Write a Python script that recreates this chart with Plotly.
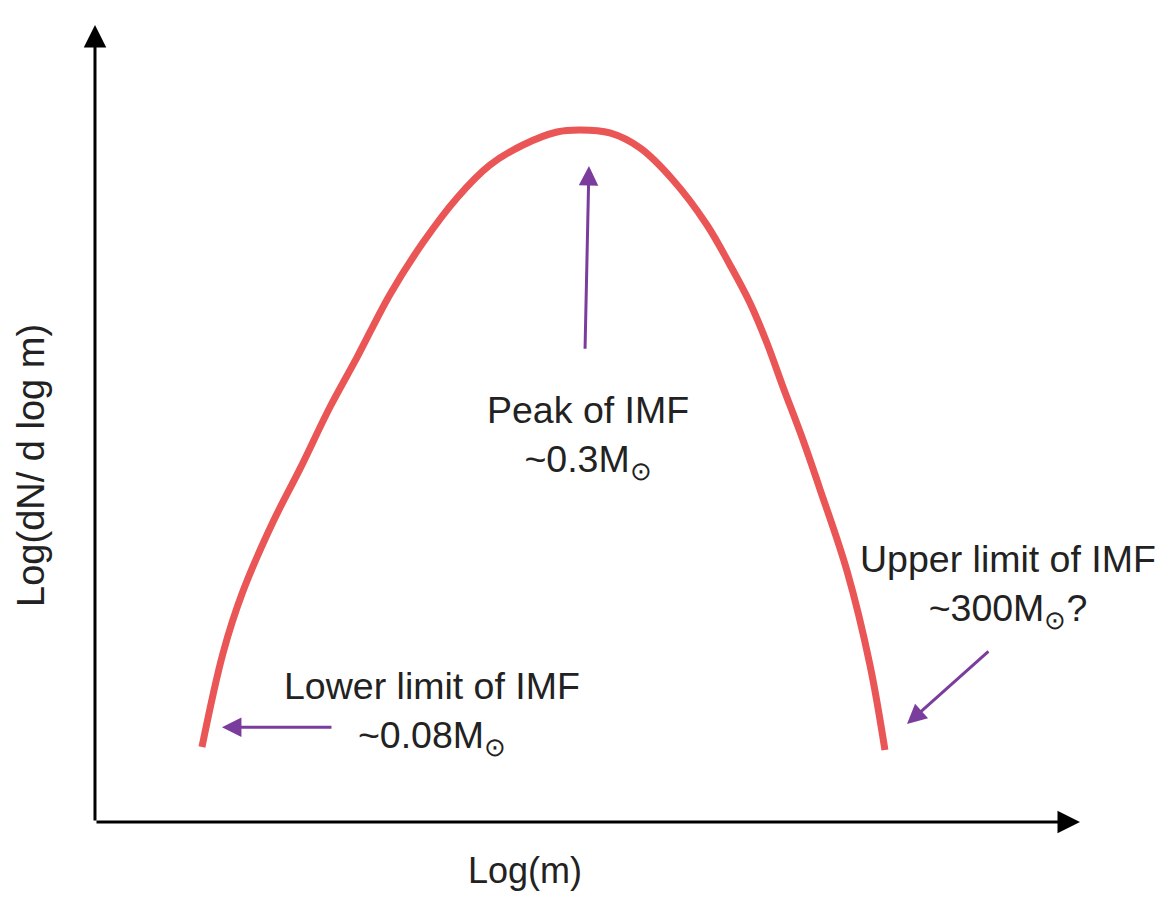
import plotly.graph_objects as go

# Schematic IMF curve (arbitrary units: Log(m) on x, Log(dN/d log m) on y)
log_m = [1.086, 1.300, 1.503, 1.807, 2.081, 2.386, 2.660, 2.995, 3.330, 3.675, 4.010,
         4.345, 4.690, 4.924, 5.228, 5.533, 5.868, 6.213, 6.447, 6.650, 6.822, 6.985,
         7.188, 7.360, 7.635, 7.868, 8.020]
log_dn = [0.941, 2.120, 2.898, 3.764, 4.430, 5.207, 5.830, 6.620, 7.270, 7.830, 8.243,
          8.494, 8.657, 8.683, 8.645, 8.457, 8.055, 7.491, 6.989, 6.512, 6.010, 5.458,
          4.793, 4.178, 3.149, 1.970, 0.903]

axis_len = [10.0, 10.0]          # x arrow end, y arrow end
x_title = "Log(m)"
y_title = "Log(dN/ d log m)"

labels = ["Peak of IMF<br>~0.3M<sub>⊙</sub>",
          "Lower limit of IMF<br>~0.08M<sub>⊙</sub>",
          "Upper limit of IMF<br>~300M<sub>⊙</sub>?"]
label_x = [5.01, 3.42, 9.27]
label_y = [4.83, 1.36, 2.96]

# purple pointer arrows: tail -> head
arrow_tail_x = [4.975, 2.416, 9.086]
arrow_tail_y = [5.92, 1.19, 2.158]
arrow_head_x = [5.015, 1.289, 8.244]
arrow_head_y = [8.23, 1.19, 1.23]

FONT = "Liberation Sans"
TXT = "#222222"
PURPLE = "#7A3D9E"
RED = "#EA5556"

fig = go.Figure()
fig.add_trace(go.Scatter(x=log_m, y=log_dn, mode="lines",
                         line=dict(color=RED, width=7, shape="spline", smoothing=1.0),
                         hoverinfo="skip", showlegend=False))

ann = []
# axes with arrowheads
ann.append(dict(x=axis_len[0], y=0, ax=0, ay=0, xref="x", yref="y", axref="x", ayref="y",
                text="", showarrow=True, arrowhead=2, arrowsize=1.5, arrowwidth=3,
                arrowcolor="black"))
ann.append(dict(x=0, y=axis_len[1], ax=0, ay=0, xref="x", yref="y", axref="x", ayref="y",
                text="", showarrow=True, arrowhead=2, arrowsize=1.5, arrowwidth=3,
                arrowcolor="black"))
# axis titles
ann.append(dict(x=4.37, y=-0.61, xref="x", yref="y", text=x_title, showarrow=False,
                font=dict(family=FONT, size=36, color=TXT)))
ann.append(dict(x=-0.65, y=4.48, xref="x", yref="y", text=y_title, showarrow=False,
                textangle=-90, font=dict(family=FONT, size=38, color=TXT)))
# labels
for t, x, y in zip(labels, label_x, label_y):
    ann.append(dict(x=x, y=y, xref="x", yref="y", text=t, showarrow=False,
                    align="center", font=dict(family=FONT, size=37.5, color=TXT)))
# purple arrows
for tx, ty, hx, hy in zip(arrow_tail_x, arrow_tail_y, arrow_head_x, arrow_head_y):
    ann.append(dict(x=hx, y=hy, ax=tx, ay=ty, xref="x", yref="y", axref="x", ayref="y",
                    text="", showarrow=True, arrowhead=2, arrowsize=1.3, arrowwidth=3,
                    arrowcolor=PURPLE))

# page body has an 8px margin, so the figure is 16px smaller than the window
fig.update_layout(
    width=1168, height=884,
    margin=dict(l=0, r=0, t=0, b=0),
    paper_bgcolor="white", plot_bgcolor="white",
    xaxis=dict(range=[-0.8832, 10.975], visible=False, fixedrange=True),
    yaxis=dict(range=[-0.878, 10.213], visible=False, fixedrange=True),
    annotations=ann,
    showlegend=False,
)

fig.write_html("out.html")
